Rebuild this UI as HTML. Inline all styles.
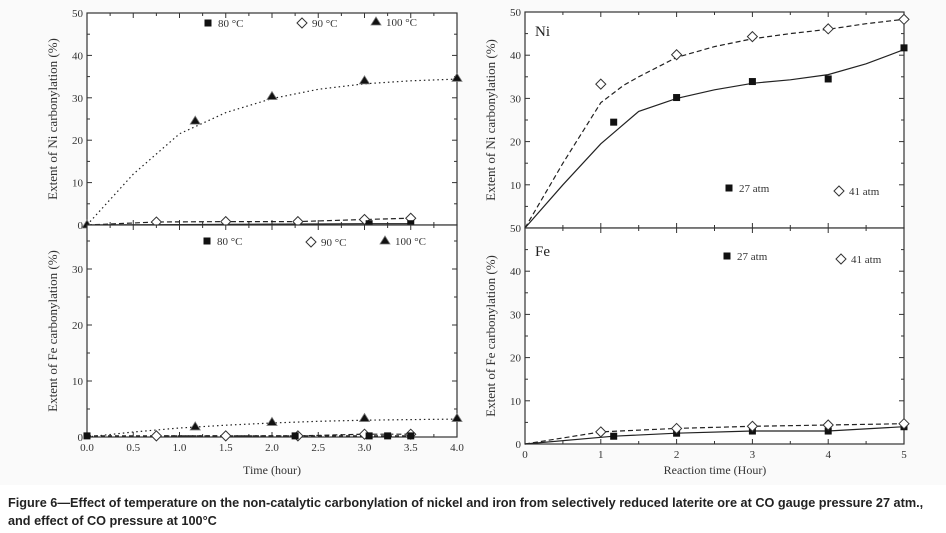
<!DOCTYPE html>
<html><head><meta charset="utf-8"><style>
body{margin:0;background:#fff;}
svg{display:block;font-family:"Liberation Serif",serif;}
.cap{font-family:"Liberation Sans",sans-serif;font-weight:bold;font-size:12.7px;fill:#222;}
</style></head><body>
<svg id="fig" width="946" height="533" viewBox="0 0 946 533">
<rect x="0" y="0" width="946" height="485" fill="#fafafa"/>
<g id="g"></g>
<text class="cap" x="8" y="507">Figure 6—Effect of temperature on the non-catalytic carbonylation of nickel and iron from selectively reduced laterite ore at CO gauge pressure 27 atm.,</text>
<text class="cap" x="8" y="525">and effect of CO pressure at 100°C</text>
</svg>
<script>
// ---- data ----
const tlNi100X=[0,1.17,2,3,4], tlNi100Y=[0,24.5,30.3,34,34.6];
const tlNi100FitX=[0,0.5,1,1.5,2,2.5,3,3.5,4], tlNi100FitY=[0,12,21.5,26.5,29.8,32,33.3,34,34.4];
const tlNi90X=[0,0.75,1.5,2.28,3,3.5], tlNi90Y=[0,0.7,0.8,0.8,1.3,1.6];
const tlNi80X=[0,3.05,3.5], tlNi80Y=[0,0.3,0.3];
const blFe100X=[1.17,2,3,4], blFe100Y=[1.8,2.6,3.3,3.3];
const blFe100FitX=[0,0.5,1,1.5,2,2.5,3,3.5,4], blFe100FitY=[0,0.9,1.6,2.1,2.5,2.8,3.0,3.1,3.2];
const blFe90X=[0.75,1.5,2.28,3,3.5], blFe90Y=[0.2,0.2,0.2,0.5,0.5];
const blFe80X=[0,2.25,3.05,3.25,3.5], blFe80Y=[0.2,0.2,0.2,0.2,0.2];
const rNi27X=[1.17,2,3,4,5], rNi27Y=[24.5,30.2,33.9,34.5,41.7];
const rNi27FitX=[0,0.5,1,1.2,1.5,2,2.5,3,3.5,4,4.5,5], rNi27FitY=[0,10,19.5,22.5,27,30,32,33.5,34.3,35.5,38,41.3];
const rNi41X=[1,2,3,4,5], rNi41Y=[33.3,40.1,44.3,46.1,48.3];
const rNi41FitX=[0,0.5,1,1.3,1.5,2,2.5,3,3.5,4,4.5,5], rNi41FitY=[0,15,29,33,35,39.5,42,43.8,45,46,47.3,48.3];
const rFe27X=[0,1.17,2,3,4,5], rFe27Y=[0,1.8,2.5,3,3,4];
const rFe41X=[0,1,2,3,4,5], rFe41Y=[0,2.8,3.6,4.1,4.4,4.7];
const leftXTicks=["0.0","0.5","1.0","1.5","2.0","2.5","3.0","3.5","4.0"];
const rightXTicks=["0","1","2","3","4","5"];

const NS="http://www.w3.org/2000/svg", G=document.getElementById('g');
function el(t,a,p){const e=document.createElementNS(NS,t);for(const k in a)e.setAttribute(k,a[k]);(p||G).appendChild(e);return e;}
function txt(x,y,s,a){const e=el('text',Object.assign({x:x,y:y,'font-size':11,fill:'#333'},a||{}));e.textContent=s;return e;}

function panel(o){
  const sx=v=>o.x0+(v-o.xmin)/(o.xmax-o.xmin)*(o.x1-o.x0);
  const sy=v=>o.y0-v*o.ppu;
  const r=el('rect',{x:o.x0,y:o.yt,width:o.x1-o.x0,height:o.y0-o.yt,fill:'#fff',stroke:'#333','stroke-width':1.2});
  
  
  for(let v=0;v<=50;v+=5){const y=sy(v); if(y<o.yt-0.5)break;
    const major=v%10===0, L=major?5:3;
    el('line',{x1:o.x0,x2:o.x0+L,y1:y,y2:y,stroke:'#333'});
    el('line',{x1:o.x1,x2:o.x1-L,y1:y,y2:y,stroke:'#333'});
    if(major && (o.showTop||y>o.yt+2 || v===0)){const t=txt(o.x0-4,y+4,o.ylab?o.ylab(v):String(v),{'text-anchor':'end'});
      }
  }
  const n=o.ticks.length;
  for(let i=0;i<n;i++){const v=o.xmin+i*(o.xmax-o.xmin)/(n-1), x=sx(v);
    el('line',{x1:x,x2:x,y1:o.y0,y2:o.y0-5,stroke:'#333'});
    el('line',{x1:x,x2:x,y1:o.yt,y2:o.yt+5,stroke:'#333'});
    if(i<n-1){const xm=sx(v+(o.xmax-o.xmin)/(n-1)/2);
      el('line',{x1:xm,x2:xm,y1:o.y0,y2:o.y0-3,stroke:'#333'});el('line',{x1:xm,x2:xm,y1:o.yt,y2:o.yt+3,stroke:'#333'});}
    if(o.xlabels){const t=txt(x,o.y0+14,o.ticks[i],{'text-anchor':'middle'});
      }
  }
  const yt=txt(0,0,o.ytitle,{'font-size':13,'text-anchor':'middle',transform:`translate(${o.x0-30},${(o.yt+o.y0)/2}) rotate(-90)`});
  
  return {sx,sy};
}
function line(p,X,Y,dash,name){
  const d=X.map((x,i)=>(i?'L':'M')+p.sx(x).toFixed(1)+','+p.sy(Y[i]).toFixed(1)).join('');
  const e=el('path',{d:d,fill:'none',stroke:'#222','stroke-width':1.2,'stroke-dasharray':dash});
  
}
function marker(x,y,type,name){
  let e;
  if(type==='sq')e=el('rect',{x:x-3.5,y:y-3.5,width:7,height:7,fill:'#111'});
  else if(type==='di')e=el('path',{d:`M${x},${y-5}L${x+5},${y}L${x},${y+5}L${x-5},${y}Z`,fill:'#fff',stroke:'#333','stroke-width':1});
  else e=el('path',{d:`M${x},${y-5}L${x+5},${y+3}L${x-5},${y+3}Z`,fill:'#111',stroke:'#777','stroke-width':0.8});
  
}
function pts(p,X,Y,type,name){X.forEach((x,i)=>marker(p.sx(x),p.sy(Y[i]),type,name));}
function legend(x,y,type,s,name){marker(x,y,type,name+'-marker');const t=txt(x+10,y+4,s,{'font-size':11});
  }

const A=panel({name:'ni-temp',x0:87,x1:457,xmin:0,xmax:4,yt:13,y0:225,ppu:4.24,ticks:leftXTicks,xlabels:false,ytitle:'Extent of Ni carbonylation (%)',showTop:true});
line(A,tlNi100FitX,tlNi100FitY,'1.5,3','ni-100c-fit');
line(A,tlNi90X,tlNi90Y,'5,3','ni-90c-line');
line(A,tlNi80X,tlNi80Y,'','ni-80c-line');
pts(A,tlNi100X,tlNi100Y,'tri','ni-100c-point');pts(A,tlNi90X.slice(1),tlNi90Y.slice(1),'di','ni-90c-point');pts(A,tlNi80X.slice(1),tlNi80Y.slice(1),'sq','ni-80c-point');
legend(208,23,'sq','80 °C','legend-80c');legend(302,23,'di','90 °C','legend-90c');legend(376,22,'tri','100 °C','legend-100c');
const B=panel({name:'fe-temp',x0:87,x1:457,xmin:0,xmax:4,yt:225,y0:437,ppu:5.6,ticks:leftXTicks,xlabels:true,ytitle:'Extent of Fe carbonylation (%)'});
line(B,blFe100FitX,blFe100FitY,'1.5,3','fe-100c-fit');
line(B,blFe90X,blFe90Y,'5,3','fe-90c-line');
line(B,blFe80X,blFe80Y,'4,3','fe-80c-line');
pts(B,blFe100X,blFe100Y,'tri','fe-100c-point');pts(B,blFe90X,blFe90Y,'di','fe-90c-point');pts(B,blFe80X,blFe80Y,'sq','fe-80c-point');
legend(207,241,'sq','80 °C','legend-fe-80c');legend(311,242,'di','90 °C','legend-fe-90c');legend(385,241,'tri','100 °C','legend-fe-100c');
const xt=txt(272,474,'Time (hour)',{'font-size':12,'text-anchor':'middle'});
const C=panel({name:'ni-pressure',x0:525,x1:904,xmin:0,xmax:5,yt:12,y0:228,ppu:4.32,ticks:rightXTicks,xlabels:false,ytitle:'Extent of Ni carbonylation (%)',showTop:true,ylab:v=>v===0?'50':String(v)});
line(C,rNi41FitX,rNi41FitY,'5,3','ni-41atm-fit');line(C,rNi27FitX,rNi27FitY,'','ni-27atm-fit');
pts(C,rNi27X,rNi27Y,'sq','ni-27atm-point');pts(C,rNi41X,rNi41Y,'di','ni-41atm-point');
legend(729,188,'sq','27 atm','legend-27atm');legend(839,191,'di','41 atm','legend-41atm');
const ni=txt(535,36,'Ni',{'font-size':15,fill:'#222'});


const D=panel({name:'fe-pressure',x0:525,x1:904,xmin:0,xmax:5,yt:228,y0:444,ppu:4.32,ticks:rightXTicks,xlabels:true,ytitle:'Extent of Fe carbonylation (%)'});
line(D,rFe41X,rFe41Y,'5,3','fe-41atm-line');line(D,rFe27X,rFe27Y,'','fe-27atm-line');
pts(D,rFe27X.slice(1),rFe27Y.slice(1),'sq','fe-27atm-point');pts(D,rFe41X.slice(1),rFe41Y.slice(1),'di','fe-41atm-point');
legend(727,256,'sq','27 atm','legend-fe-27atm');legend(841,259,'di','41 atm','legend-fe-41atm');
const fe=txt(535,256,'Fe',{'font-size':15,fill:'#222'});


const xt2=txt(715,474,'Reaction time (Hour)',{'font-size':12,'text-anchor':'middle'});
</script>
</body></html>
